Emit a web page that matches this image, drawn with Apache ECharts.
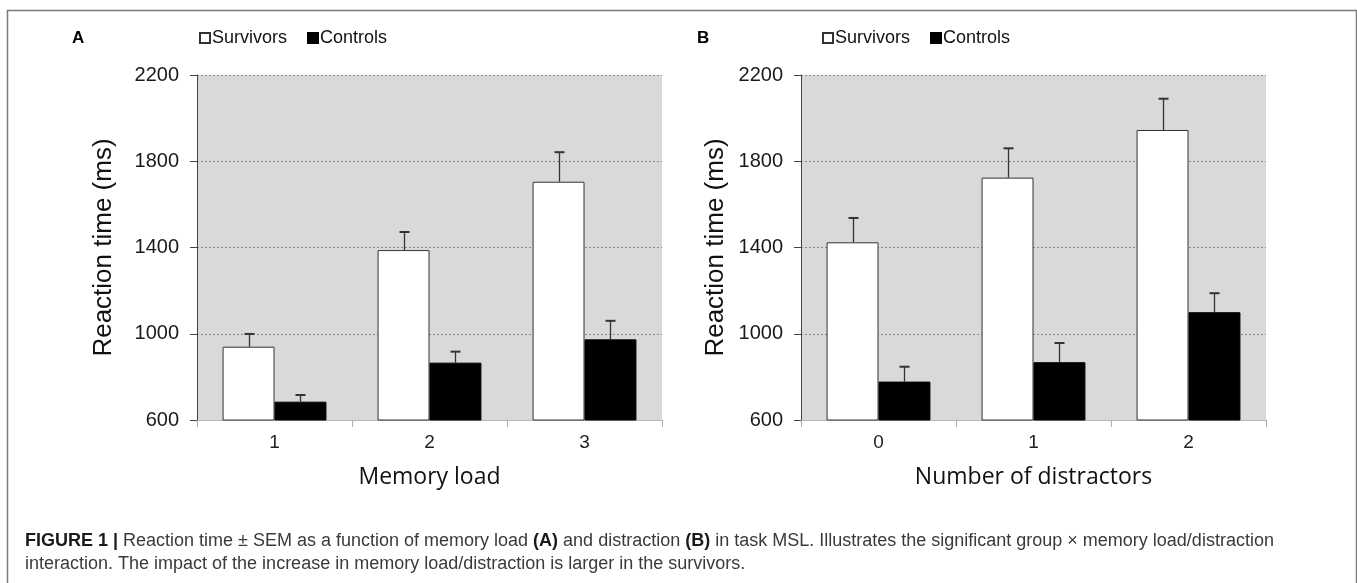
<!DOCTYPE html>
<html>
<head>
<meta charset="utf-8">
<script src="https://cdn.jsdelivr.net/npm/echarts@6/dist/echarts.min.js"></script>
<style>
html,body{margin:0;padding:0;background:#fff;}
#c{width:1357px;height:583px;}
</style>
</head>
<body>
<div id="c"></div>
<script>
// ---- data ----
const catsA = ['1', '2', '3'];
const catsB = ['0', '1', '2'];
const yTicks = [600, 1000, 1400, 1800, 2200];
const survivorsA = [940, 1388, 1705];
const survivorsSemA = [59, 84, 137];
const controlsA = [685, 866, 974];
const controlsSemA = [31, 51, 86];
const survivorsB = [1424, 1724, 1945];
const survivorsSemB = [113, 136, 145];
const controlsB = [778, 868, 1100];
const controlsSemB = [69, 89, 88];
const seriesNames = ['Survivors', 'Controls'];

const FONT = '"Liberation Sans", Arial, sans-serif';
const BAR_FRAC = 0.335;

function errData(vals, sems) {
  return vals.map((v, i) => [i, v, sems[i]]);
}
function errSeries(gridIdx, vals, sems, side) {
  return {
    type: 'custom',
    xAxisIndex: gridIdx, yAxisIndex: gridIdx,
    data: errData(vals, sems),
    encode: {x: 0, y: 1},
    z: 10,
    silent: true,
    renderItem: function (params, api) {
      const xi = api.value(0), v = api.value(1), s = api.value(2);
      const band = api.size([1, 0])[0];
      const off = side * band * BAR_FRAC / 2;
      const p0 = api.coord([xi, v]);
      const p1 = api.coord([xi, v + s]);
      const x = Math.round(p0[0] + off) + 0.5;
      const st = {stroke: '#333', lineWidth: 1.3};
      return {
        type: 'group',
        children: [
          {type: 'line', shape: {x1: x, y1: p0[1], x2: x, y2: p1[1]}, style: st},
          {type: 'line', shape: {x1: x - 5, y1: p1[1], x2: x + 5, y2: p1[1]}, style: {stroke: '#333', lineWidth: 2}}
        ]
      };
    }
  };
}

function xAx(gridIdx, cats, name) {
  return {
    type: 'category', gridIndex: gridIdx, data: cats,
    name: name, nameLocation: 'middle', nameGap: 46,
    nameTextStyle: {fontFamily: '"Open Sans", sans-serif', fontSize: 23, color: '#111'},
    axisLine: {show: true, lineStyle: {color: '#b8b8b8', width: 1}},
    axisTick: {show: true, length: 7, lineStyle: {color: '#aaa'}},
    axisLabel: {fontFamily: FONT, fontSize: 19, color: '#222', margin: 13},
    splitLine: {show: false}
  };
}
function yAx(gridIdx, nameGap) {
  return {
    type: 'value', gridIndex: gridIdx,
    min: yTicks[0], max: yTicks[yTicks.length - 1], interval: yTicks[1] - yTicks[0],
    name: 'Reaction time (ms)', nameLocation: 'middle', nameGap: nameGap,
    nameTextStyle: {fontFamily: FONT, fontSize: 26, color: '#111'},
    axisLine: {show: true, lineStyle: {color: '#444', width: 1}},
    axisTick: {show: true, length: 7, lineStyle: {color: '#444'}},
    axisLabel: {fontFamily: FONT, fontSize: 20, color: '#1a1a1a', margin: 18,
      formatter: function (v) { return String(v); }},
    splitLine: {show: true, lineStyle: {color: '#8a8a8a', type: [2, 2], width: 1}}
  };
}
function barSeries(gridIdx, name, vals, fill, border) {
  return {
    type: 'bar', name: name, xAxisIndex: gridIdx, yAxisIndex: gridIdx,
    data: vals, barWidth: (BAR_FRAC * 100) + '%', barGap: '0%',
    itemStyle: {color: fill, borderColor: border, borderWidth: 1},
    emphasis: {disabled: true}
  };
}

const chart = echarts.init(document.getElementById('c'), null, {renderer: 'canvas'});
const captionText =
  '{b|FIGURE 1 |} Reaction time \u00b1 SEM as a function of memory load {b|(A)} and distraction {b|(B)} in task MSL. Illustrates the significant group \u00d7 memory load/distraction\n' +
  'interaction. The impact of the increase in memory load/distraction is larger in the survivors.';

const legendBase = {data: seriesNames, top: 29, padding: 0, icon: 'rect', itemWidth: 10, itemHeight: 10, itemGap: 20,
  selectedMode: false, textStyle: {fontFamily: FONT, fontSize: 18, color: '#111', padding: [0, 0, 0, -3]}};

chart.setOption({
  backgroundColor: '#fff',
  animation: false,
  title: [
    {text: 'A', left: 72, top: 30, padding: 0, textStyle: {fontFamily: FONT, fontSize: 17, fontWeight: 'bold', color: '#000'}},
    {text: 'B', left: 697, top: 30, padding: 0, textStyle: {fontFamily: FONT, fontSize: 17, fontWeight: 'bold', color: '#000'}},
    {text: captionText, left: 25, top: 530, padding: 0,
      textStyle: {fontFamily: FONT, fontSize: 18, fontWeight: 'normal', color: '#3a3a3a', lineHeight: 23,
        rich: {b: {fontFamily: FONT, fontSize: 18, fontWeight: 'bold', color: '#1a1a1a', lineHeight: 23}}}}
  ],
  legend: [
    Object.assign({}, legendBase, {left: 199}),
    Object.assign({}, legendBase, {left: 822})
  ],
  grid: [
    {left: 197, right: 695, top: 75, bottom: 163, show: true, backgroundColor: '#d9d9d9', borderWidth: 0, containLabel: false},
    {left: 801, right: 91, top: 75, bottom: 163, show: true, backgroundColor: '#d9d9d9', borderWidth: 0, containLabel: false}
  ],
  xAxis: [xAx(0, catsA, 'Memory load'), xAx(1, catsB, 'Number of distractors')],
  yAxis: [yAx(0, 80), yAx(1, 72)],
  series: [
    barSeries(0, seriesNames[0], survivorsA, '#ffffff', '#333'),
    barSeries(0, seriesNames[1], controlsA, '#000000', '#000'),
    barSeries(1, seriesNames[0], survivorsB, '#ffffff', '#333'),
    barSeries(1, seriesNames[1], controlsB, '#000000', '#000'),
    errSeries(0, survivorsA, survivorsSemA, -1),
    errSeries(0, controlsA, controlsSemA, 1),
    errSeries(1, survivorsB, survivorsSemB, -1),
    errSeries(1, controlsB, controlsSemB, 1)
  ],
  graphic: [
    {type: 'rect', left: 5, top: 8, shape: {x: 0, y: 0, width: 1349, height: 600},
      style: {fill: 'none', stroke: '#7a7a7a', lineWidth: 1.5}, silent: true, z: 100}
  ]
});
</script>
</body>
</html>
